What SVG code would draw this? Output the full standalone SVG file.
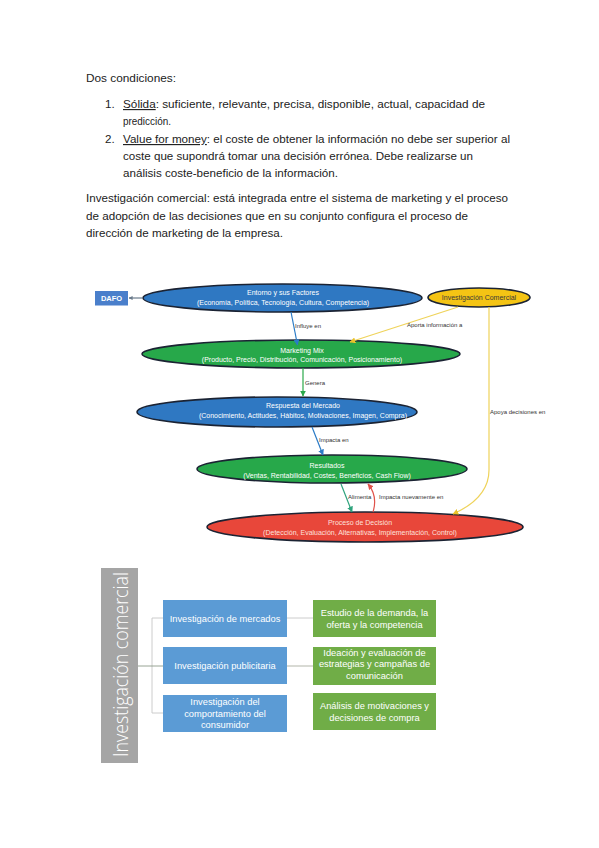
<svg xmlns="http://www.w3.org/2000/svg" width="599" height="848" viewBox="0 0 599 848">
<style>
.body{font-family:"Liberation Sans",Arial,sans-serif;font-size:11.6px;fill:#222}
.u{text-decoration:underline}
.nt{font-family:"Liberation Sans",Arial,sans-serif;font-size:7px;fill:#fff;text-anchor:middle}
.lbl{font-family:"Liberation Sans",Arial,sans-serif;font-size:6px;fill:#333}
.bt{font-family:"Liberation Sans",Arial,sans-serif;font-size:9.3px;fill:#fff;text-anchor:middle}
.ell{stroke:#1b2333;stroke-width:1.6}
.con{fill:none;stroke-width:1.2}
.br{fill:none;stroke:#c6c6c6;stroke-width:0.9}
</style>
<defs>
<marker id="mBlue" viewBox="0 0 10 10" refX="9" refY="5" markerWidth="6" markerHeight="6" orient="auto" markerUnits="userSpaceOnUse"><path d="M0,0L10,5L0,10z" fill="#2b7bc6"/></marker>
<marker id="mGreen" viewBox="0 0 10 10" refX="9" refY="5" markerWidth="6" markerHeight="6" orient="auto" markerUnits="userSpaceOnUse"><path d="M0,0L10,5L0,10z" fill="#2aa84a"/></marker>
<marker id="mYel" viewBox="0 0 10 10" refX="9" refY="5" markerWidth="6" markerHeight="6" orient="auto" markerUnits="userSpaceOnUse"><path d="M0,0L10,5L0,10z" fill="#eac22a"/></marker>
<marker id="mTeal" viewBox="0 0 10 10" refX="9" refY="5" markerWidth="6" markerHeight="6" orient="auto" markerUnits="userSpaceOnUse"><path d="M0,0L10,5L0,10z" fill="#2ea37c"/></marker>
<marker id="mRed" viewBox="0 0 10 10" refX="9" refY="5" markerWidth="6" markerHeight="6" orient="auto" markerUnits="userSpaceOnUse"><path d="M0,0L10,5L0,10z" fill="#e0524a"/></marker>
<marker id="mGray" viewBox="0 0 10 10" refX="9" refY="5" markerWidth="4" markerHeight="4" orient="auto" markerUnits="userSpaceOnUse"><path d="M0,0L10,5L0,10z" fill="#6a7a8a"/></marker>
</defs>
<rect width="599" height="848" fill="#fff"/>

<g id="text-block">
<text class="body" x="86" y="82" textLength="90" lengthAdjust="spacingAndGlyphs">Dos condiciones:</text>
<text class="body" x="105" y="108">1.</text>
<text class="body" x="123" y="108" textLength="362" lengthAdjust="spacingAndGlyphs"><tspan class="u">Sólida</tspan>: suficiente, relevante, precisa, disponible, actual, capacidad de</text>
<text class="body" x="123" y="125" textLength="48" lengthAdjust="spacingAndGlyphs">predicción.</text>
<text class="body" x="105" y="143">2.</text>
<text class="body" x="123" y="143" textLength="387" lengthAdjust="spacingAndGlyphs"><tspan class="u">Value for money</tspan>: el coste de obtener la información no debe ser superior al</text>
<text class="body" x="123" y="160" textLength="350" lengthAdjust="spacingAndGlyphs">coste que supondrá tomar una decisión errónea. Debe realizarse un</text>
<text class="body" x="123" y="177" textLength="215" lengthAdjust="spacingAndGlyphs">análisis coste-beneficio de la información.</text>
<text class="body" x="86" y="202" textLength="422" lengthAdjust="spacingAndGlyphs">Investigación comercial: está integrada entre el sistema de marketing y el proceso</text>
<text class="body" x="86" y="220" textLength="382" lengthAdjust="spacingAndGlyphs">de adopción de las decisiones que en su conjunto configura el proceso de</text>
<text class="body" x="86" y="237" textLength="197" lengthAdjust="spacingAndGlyphs">dirección de marketing de la empresa.</text>
</g>

<g id="node-dafo">
<rect x="95" y="291" width="33" height="14.5" fill="#4a7fcb"/>
<text x="111.5" y="300.8" font-family="Liberation Sans,Arial,sans-serif" font-size="7.5" font-weight="bold" fill="#fff" text-anchor="middle">DAFO</text>
</g>
<g id="node-entorno">
<ellipse class="ell" cx="282.5" cy="298" rx="139.5" ry="14" fill="#2f78c2"/>
<text class="nt" x="283" y="294.5">Entorno y sus Factores</text>
<text class="nt" x="283" y="304.5">(Economía, Política, Tecnología, Cultura, Competencia)</text>
</g>
<g id="node-investigacion">
<ellipse class="ell" cx="479" cy="297.5" rx="51" ry="9.5" fill="#f4c414"/>
<text class="nt" x="479" y="300" style="fill:#3a3a3a">Investigación Comercial</text>
</g>
<g id="node-marketing">
<ellipse class="ell" cx="301" cy="354" rx="159" ry="14" fill="#27a84a"/>
<text class="nt" x="302" y="352.5">Marketing Mix</text>
<text class="nt" x="302" y="361.5">(Producto, Precio, Distribución, Comunicación, Posicionamiento)</text>
</g>
<g id="node-respuesta">
<ellipse class="ell" cx="277" cy="412" rx="140" ry="15" fill="#2f78c2"/>
<text class="nt" x="303" y="407.5">Respuesta del Mercado</text>
<text class="nt" x="303" y="417.5">(Conocimiento, Actitudes, Hábitos, Motivaciones, Imagen, Compra)</text>
</g>
<g id="node-resultados">
<ellipse class="ell" cx="332" cy="469" rx="135" ry="14" fill="#27a84a"/>
<text class="nt" x="327" y="467.5">Resultados</text>
<text class="nt" x="327" y="477.5">(Ventas, Rentabilidad, Costes, Beneficios, Cash Flow)</text>
</g>
<g id="node-proceso">
<ellipse class="ell" cx="365" cy="527" rx="158" ry="15" fill="#e8473a"/>
<text class="nt" x="360" y="524.5" style="fill:#fde0dc">Proceso de Decisión</text>
<text class="nt" x="360" y="534.5" style="fill:#fde0dc">(Detección, Evaluación, Alternativas, Implementación, Control)</text>
</g>

<g id="connectors">
<path class="con" d="M143,298 L129,298" stroke="#6a7a8a" stroke-width="0.8" marker-end="url(#mGray)"/>
<path class="con" d="M291,312 L297.5,345" stroke="#2b7bc6" marker-end="url(#mBlue)"/>
<path class="con" d="M458,307 L350,342" stroke="#efd35a" marker-end="url(#mYel)"/>
<path class="con" d="M489,307 L489,470 Q489,498 453,514" stroke="#efd35a" marker-end="url(#mYel)"/>
<path class="con" d="M303,368 L303,396" stroke="#2aa84a" marker-end="url(#mGreen)"/>
<path class="con" d="M312,427 L323,455" stroke="#2b7bc6" marker-end="url(#mBlue)"/>
<path class="con" d="M341,484 L352,512" stroke="#2ea37c" marker-end="url(#mTeal)"/>
<path class="con" d="M373,512 Q378,496 368,484" stroke="#e0524a" marker-end="url(#mRed)"/>
<text class="lbl" x="295" y="328">Influye en</text>
<text class="lbl" x="407" y="327">Aporta información a</text>
<text class="lbl" x="490" y="414">Apoya decisiones en</text>
<text class="lbl" x="305" y="385">Genera</text>
<text class="lbl" x="319" y="442">Impacta en</text>
<text class="lbl" x="348" y="499">Alimenta</text>
<text class="lbl" x="379" y="499">Impacta nuevamente en</text>
</g>

<g id="node-ic-vertical">
<rect x="101" y="568" width="37" height="195" fill="#a5a5a5"/>
<text transform="translate(127.5,757) rotate(-90)" font-family="Open Sans,Liberation Sans,sans-serif" font-weight="300" font-size="20" fill="#fff" textLength="185" lengthAdjust="spacingAndGlyphs">Investigación comercial</text>
</g>

<g id="tree-connectors">
<path class="br" d="M152,618 L152,713 M152,618 L163,618 M152,713 L163,713"/>
<path d="M138,666 L163,666" fill="none" stroke="#8d9a88" stroke-width="0.9"/>
<path class="br" d="M287,618 L313,618"/>
<path d="M287,666 L313,666" fill="none" stroke="#a9ad9f" stroke-width="0.9"/>
</g>

<g id="node-b1">
<rect x="163" y="600" width="124" height="37" fill="#5b9bd5"/>
<text class="bt" x="225" y="621.5">Investigación de mercados</text>
</g>
<g id="node-b2">
<rect x="163" y="647" width="124" height="37" fill="#5b9bd5"/>
<text class="bt" x="225" y="668.5">Investigación publicitaria</text>
</g>
<g id="node-b3">
<rect x="163" y="695" width="124" height="37" fill="#5b9bd5"/>
<text class="bt" x="225" y="705">Investigación del</text>
<text class="bt" x="225" y="716.5">comportamiento del</text>
<text class="bt" x="225" y="728">consumidor</text>
</g>
<g id="node-g1">
<rect x="313" y="600" width="123" height="37" fill="#70ad47"/>
<text class="bt" x="374.5" y="616">Estudio de la demanda, la</text>
<text class="bt" x="374.5" y="628">oferta y la competencia</text>
</g>
<g id="node-g2">
<rect x="313" y="647" width="123" height="38" fill="#70ad47"/>
<text class="bt" x="374.5" y="656">Ideación y evaluación de</text>
<text class="bt" x="374.5" y="667">estrategias y campañas de</text>
<text class="bt" x="374.5" y="678.5">comunicación</text>
</g>
<g id="node-g3">
<rect x="313" y="693" width="123" height="37" fill="#70ad47"/>
<text class="bt" x="374.5" y="708.5">Análisis de motivaciones y</text>
<text class="bt" x="374.5" y="720.5">decisiones de compra</text>
</g>
</svg>
